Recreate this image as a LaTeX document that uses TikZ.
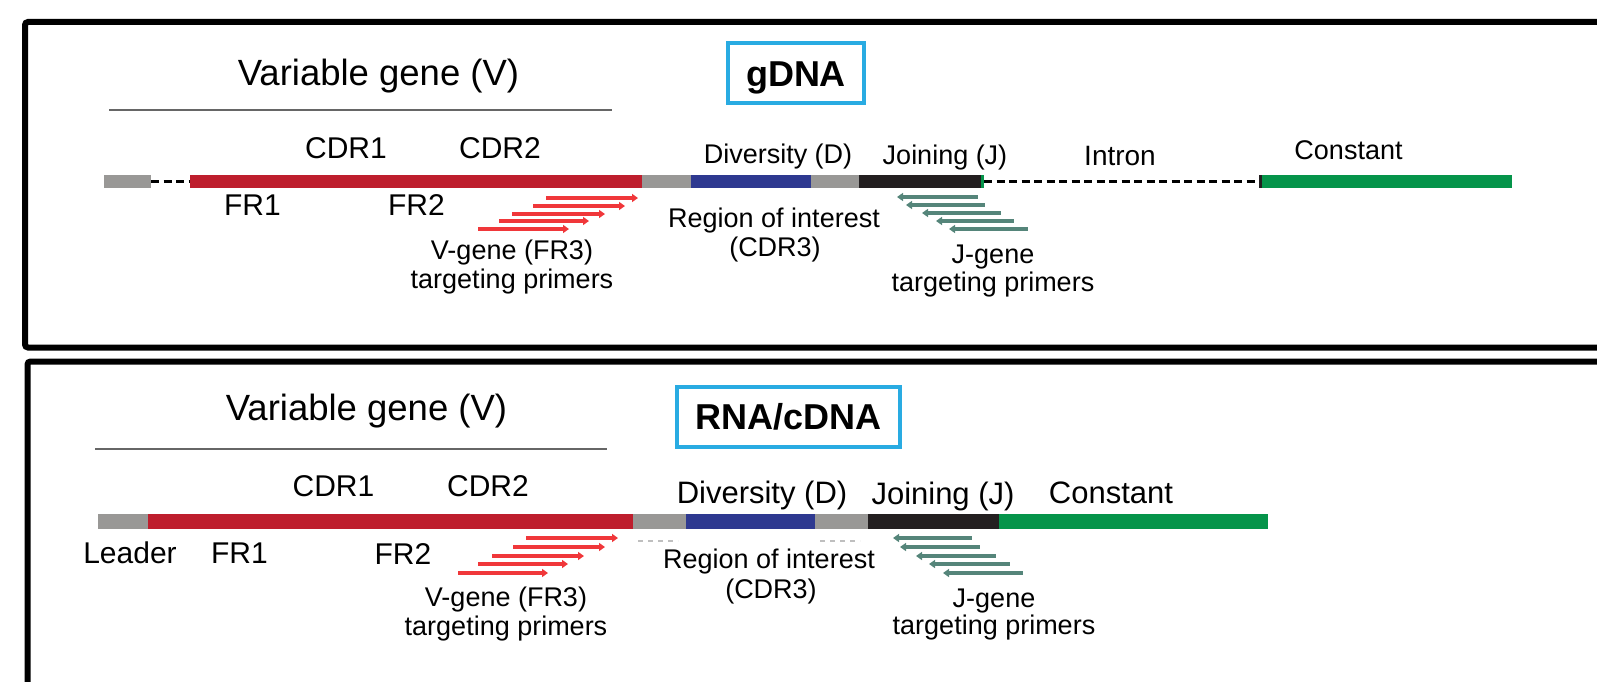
\documentclass[tikz,border=0pt]{standalone}
\usepackage{fontspec}
\setmainfont{Liberation Sans}
\usetikzlibrary{arrows.meta}
\definecolor{vred}{HTML}{BE1E2D}
\definecolor{sgray}{HTML}{999896}
\definecolor{dblue}{HTML}{2E3990}
\definecolor{jblack}{HTML}{231F20}
\definecolor{cgreen}{HTML}{05944A}
\definecolor{pred}{HTML}{F0373A}
\definecolor{pgreen}{HTML}{55857A}
\definecolor{boxblue}{HTML}{29ABE2}
\begin{document}
\begin{tikzpicture}[x=1pt,y=-1pt,
  lbl/.style={anchor=base,inner sep=0pt,font=\fontsize{30}{36}\selectfont},
  slbl/.style={anchor=base,inner sep=0pt,font=\fontsize{27}{32}\selectfont},
  big/.style={anchor=base,inner sep=0pt,font=\fontsize{36.5}{42}\selectfont},
  title/.style={anchor=base,inner sep=0pt,font=\fontsize{36}{42}\selectfont\bfseries},
  panel/.style={draw=black,line width=6pt,rounded corners=3pt},
  tbox/.style={draw=boxblue,line width=4.5pt},
  vline/.style={draw=black!60,line width=2pt},
  intr/.style={draw=black,line width=3pt,dash pattern=on 8pt off 4.5pt},
  rprim/.style={draw=pred,line width=3.8pt,-{Triangle[length=6pt,width=8pt]}},
  gprim/.style={draw=pgreen,line width=4pt,{Triangle[length=6pt,width=8pt]}-},
  faint/.style={draw=black!25,line width=1.5pt,dash pattern=on 5pt off 5pt}]
\useasboundingbox (0,0) rectangle (1597,682);
\clip (0,0) rectangle (1597,682);

% panels
\draw[panel] (1640,22) -- (25,22) -- (25,347.5) -- (1640,347.5);
\draw[panel] (1640,361.5) -- (27.5,361.5) -- (27.5,720);

% ===== top panel (gDNA) =====
\draw[tbox] (728,43) rectangle (864,103);
\node[title] (tgdna) at (796,87) {gDNA};
\node[big] (tvar) at (378.5,86) {Variable gene (V)};
\coordinate (tvl) at (109,110);
\coordinate (tvr) at (612,110);
\draw[vline] (tvl) -- (tvr);

\coordinate (tdash1a) at (151,181.5);
\coordinate (tdash1b) at (190,181.5);
\draw[intr] (tdash1a) -- (tdash1b);
\coordinate (tdash2a) at (984,181.5);
\coordinate (tdash2b) at (1259,181.5);
\draw[intr] (tdash2a) -- (tdash2b);
\fill[sgray] (104,175) rectangle (151,188);
\fill[vred] (190,175) rectangle (642,188);
\fill[sgray] (642,175) rectangle (691,188);
\fill[dblue] (691,175) rectangle (811,188);
\fill[sgray] (811,175) rectangle (859,188);
\fill[jblack] (859,175) rectangle (981,188);
\fill[cgreen] (981,175) rectangle (984,188);
\fill[jblack] (1259,175) rectangle (1262,188);
\fill[cgreen] (1262,175) rectangle (1512,188);

\node[lbl] (tcdr1) at (346,158) {CDR1};
\node[lbl] (tcdr2) at (500,158) {CDR2};
\node[lbl] (tfr1) at (252.5,215) {FR1};
\node[lbl] (tfr2) at (416.5,215) {FR2};
\node[slbl] (tdiv) at (778,163) {Diversity (D)};
\node[slbl] (tjoin) at (945,164) {Joining (J)};
\node[slbl,font=\fontsize{28}{33}\selectfont] (tintron) at (1120,165) {Intron};
\node[slbl] (tconst) at (1348.5,159) {Constant};
\node[slbl] (troi) at (774,227) {Region of interest};
\node[slbl] (tcdr3) at (775,256.5) {(CDR3)};
\node[slbl] (tvg) at (512,259) {V-gene (FR3)};
\node[slbl] (tvtp) at (512,288.5) {targeting primers};
\node[slbl] (tjg) at (993,263) {J-gene};
\node[slbl] (tjtp) at (993,291) {targeting primers};

\foreach \a/\b/\y [count=\i] in {546/638/198, 533/625/206, 512/605/214, 499/589/221, 478/569/229}{
  \coordinate (trs\i) at (\a,\y); \coordinate (tre\i) at (\b,\y);
  \draw[rprim] (trs\i) -- (tre\i);}
\foreach \a/\b/\y [count=\i] in {897/978/197, 906/985/205, 922/1001/213, 936/1014/221, 949/1028/229}{
  \coordinate (tgs\i) at (\a,\y); \coordinate (tge\i) at (\b,\y);
  \draw[gprim] (tgs\i) -- (tge\i);}

% ===== bottom panel (RNA/cDNA) =====
\draw[tbox] (677,387) rectangle (900,447);
\node[title] (brna) at (788.5,429) {RNA/cDNA};
\node[big] (bvar) at (366.5,420) {Variable gene (V)};
\coordinate (bvl) at (95,449);
\coordinate (bvr) at (607,449);
\draw[vline] (bvl) -- (bvr);

\fill[sgray] (98,514) rectangle (148,529);
\fill[vred] (148,514) rectangle (633,529);
\fill[sgray] (633,514) rectangle (686,529);
\fill[dblue] (686,514) rectangle (815,529);
\fill[sgray] (815,514) rectangle (868,529);
\fill[jblack] (868,514) rectangle (999,529);
\fill[cgreen] (999,514) rectangle (1268,529);

\coordinate (bf1a) at (638,541); \coordinate (bf1b) at (678,541);
\draw[faint] (bf1a) -- (bf1b);
\coordinate (bf2a) at (820,541); \coordinate (bf2b) at (860,541);
\draw[faint] (bf2a) -- (bf2b);

\node[lbl] (bcdr1) at (333.5,496) {CDR1};
\node[lbl] (bcdr2) at (488,496) {CDR2};
\node[lbl] (blead) at (130,563) {Leader};
\node[lbl] (bfr1) at (239.5,563) {FR1};
\node[lbl] (bfr2) at (403,564) {FR2};
\node[lbl,font=\fontsize{31}{37}\selectfont] (bdiv) at (762,503) {Diversity (D)};
\node[lbl,font=\fontsize{31}{37}\selectfont] (bjoin) at (943,504) {Joining (J)};
\node[lbl,font=\fontsize{31}{37}\selectfont] (bconst) at (1111,503) {Constant};
\node[slbl] (broi) at (769,568.5) {Region of interest};
\node[slbl] (bcdr3) at (771,598.5) {(CDR3)};
\node[slbl] (bvg) at (506,606) {V-gene (FR3)};
\node[slbl] (bvtp) at (506,635) {targeting primers};
\node[slbl] (bjg) at (994,607.5) {J-gene};
\node[slbl] (bjtp) at (994,634.5) {targeting primers};

\foreach \a/\b/\y [count=\i] in {526/618/538, 513/605/547, 492/584/556, 478/568/564, 458/548/573}{
  \coordinate (brs\i) at (\a,\y); \coordinate (bre\i) at (\b,\y);
  \draw[rprim] (brs\i) -- (bre\i);}
\foreach \a/\b/\y [count=\i] in {893/972/538, 900/980/547, 916/996/556, 929/1010/564, 943/1023/573}{
  \coordinate (bgs\i) at (\a,\y); \coordinate (bge\i) at (\b,\y);
  \draw[gprim] (bgs\i) -- (bge\i);}
\end{tikzpicture}
\end{document}
